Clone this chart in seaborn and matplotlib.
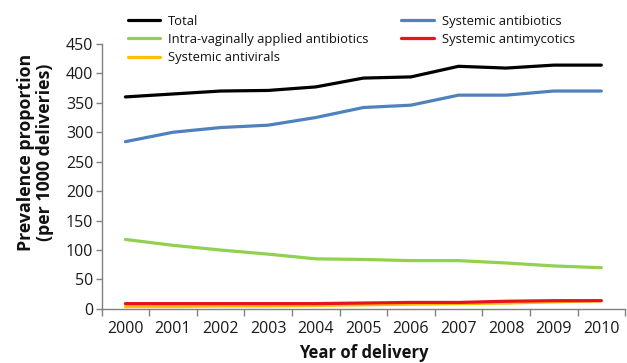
import matplotlib
matplotlib.use("Agg")
import matplotlib.pyplot as plt
import seaborn as sns
import pandas as pd
from matplotlib.ticker import FixedLocator

years = [2000, 2001, 2002, 2003, 2004, 2005, 2006, 2007, 2008, 2009, 2010]
total = [360, 365, 370, 371, 377, 392, 394, 412, 409, 414, 414]
systemic_antibiotics = [284, 300, 308, 312, 325, 342, 346, 363, 363, 370, 370]
intravaginal_antibiotics = [118, 108, 100, 93, 85, 84, 82, 82, 78, 73, 70]
systemic_antimycotics = [9, 9, 9, 9, 9, 10, 11, 11, 13, 14, 14]
systemic_antivirals = [4, 4, 5, 5, 6, 7, 8, 9, 10, 12, 14]

series_names = ["Total", "Systemic antibiotics", "Intra-vaginally applied antibiotics",
                "Systemic antimycotics", "Systemic antivirals"]
series_values = [total, systemic_antibiotics, intravaginal_antibiotics,
                 systemic_antimycotics, systemic_antivirals]
palette = {
    "Total": "#000000",
    "Systemic antibiotics": "#4f81bd",
    "Intra-vaginally applied antibiotics": "#92d050",
    "Systemic antimycotics": "#e8141b",
    "Systemic antivirals": "#ffc000",
}

rows = []
for name, vals in zip(series_names, series_values):
    for i, (yr, v) in enumerate(zip(years, vals)):
        rows.append({"pos": i, "year": yr, "series": name, "value": v})
df = pd.DataFrame(rows)

sns.set_theme(style="white")
plt.rcParams["font.family"] = ["Open Sans", "DejaVu Sans"]

fig = plt.figure(figsize=(6.27, 3.63), dpi=100)
ax = fig.add_axes([0.162, 0.149, 0.835, 0.73])

# draw the small series first so the larger ones sit on top
draw_order = ["Systemic antivirals", "Systemic antimycotics",
              "Intra-vaginally applied antibiotics", "Systemic antibiotics", "Total"]
for name in draw_order:
    sns.lineplot(data=df[df["series"] == name], x="pos", y="value",
                 color=palette[name], linewidth=2.3, ax=ax, label=name,
                 legend=False)

ax.set_xlim(-0.5, 10.5)
ax.set_ylim(0, 450)
ax.set_yticks(range(0, 451, 50))
ax.set_xticks(range(len(years)))
ax.set_xticklabels([str(y) for y in years])
ax.xaxis.set_minor_locator(FixedLocator([i - 0.5 for i in range(len(years) + 1)]))
ax.tick_params(axis="x", which="major", length=0, labelsize=11.5, pad=9, colors="#1a1a1a")
ax.tick_params(axis="x", which="minor", length=5, width=1, color="#808080", bottom=True)
ax.tick_params(axis="y", length=4, width=1, color="#808080", labelsize=11.5, left=True,
               pad=2, labelcolor="#1a1a1a")

for s in ["top", "right"]:
    ax.spines[s].set_visible(False)
for s in ["left", "bottom"]:
    ax.spines[s].set_color("#808080")
    ax.spines[s].set_linewidth(1)

ax.set_xlabel("Year of delivery", fontsize=12, fontweight="bold", labelpad=5,
              color="#111111")
ax.set_ylabel("Prevalence proportion\n(per 1000 deliveries)", fontsize=12.8,
              fontweight="bold", linespacing=1.08, color="#111111")
ax.yaxis.set_label_coords(-0.09, 0.59)

# legend laid out in two columns, filled column-wise
handles = {l.get_label(): l for l in ax.get_lines()}
legend_order = ["Total", "Intra-vaginally applied antibiotics", "Systemic antivirals",
                "Systemic antibiotics", "Systemic antimycotics"]
fig.legend([handles[n] for n in legend_order], legend_order, ncol=2,
           loc="upper left", bbox_to_anchor=(0.185, 0.992), frameon=False,
           fontsize=9.4, handlelength=2.5, columnspacing=2.5,
           labelspacing=0.4, handletextpad=0.6, labelcolor="#111111")

fig.savefig("out.png", dpi=100)
